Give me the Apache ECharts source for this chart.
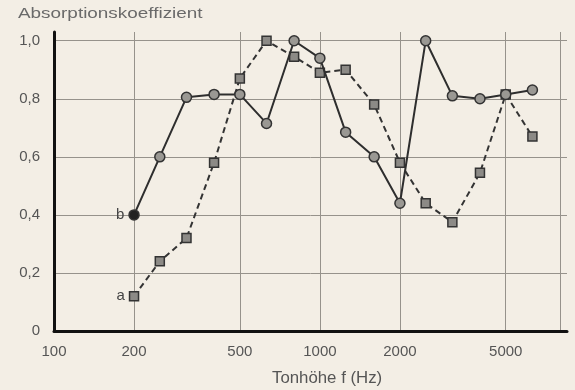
<!DOCTYPE html>
<html><head><meta charset="utf-8">
<script src="https://cdn.jsdelivr.net/npm/echarts@6/dist/echarts.min.js"></script>
<style>html,body{margin:0;padding:0;background:#f3eee5}#c{width:575px;height:390px}</style>
</head><body><div id="c"></div>
<script>
const freqs = [200, 250, 315, 400, 500, 630, 800, 1000, 1250, 1600, 2000, 2500, 3150, 4000, 5000, 6300];
const seriesB = [0.40, 0.60, 0.805, 0.815, 0.815, 0.715, 1.00, 0.94, 0.685, 0.60, 0.44, 1.00, 0.81, 0.80, 0.815, 0.83];
const seriesA = [0.12, 0.24, 0.32, 0.58, 0.87, 1.00, 0.945, 0.89, 0.90, 0.78, 0.58, 0.44, 0.375, 0.545, 0.815, 0.67];
const xTickLabels = [100, 200, 500, 1000, 2000, 5000];
const xGridValues = [200, 500, 1000, 2000, 5000, 8000];
const yTickValues = [0, 0.2, 0.4, 0.6, 0.8, 1.0];
const yTitle = 'Absorptionskoeffizient';
const xTitle = 'Tonhöhe f (Hz)';

const chart = echarts.init(document.getElementById('c'));
const pairs = (vals) => freqs.map((f, i) => [f, vals[i]]);
const dataB = pairs(seriesB);
const dataA = pairs(seriesA);
const endLabel = (t) => ({show: true, formatter: t, position: 'left', distance: 4, fontSize: 15, color: '#444', fontFamily: 'Liberation Sans'});
dataB[0] = {value: dataB[0], label: endLabel('b'), itemStyle: {color: '#222'}};
dataA[0] = {value: dataA[0], label: endLabel('a')};

chart.setOption({
  backgroundColor: '#f3eee5',
  animation: false,
  grid: {left: 54, right: 8, top: 32, bottom: 59},
  xAxis: {
    type: 'log', min: 100, max: 8500,
    axisLine: {show: true, lineStyle: {color: '#111', width: 3}},
    axisTick: {show: false, customValues: xGridValues},
    axisLabel: {customValues: xTickLabels, color: '#555', fontSize: 15, margin: 13, fontFamily: 'Liberation Sans',
      formatter: v => String(Math.round(v))},
    splitLine: {show: true, lineStyle: {color: '#96928b', width: 1}}
  },
  yAxis: {
    type: 'value', min: 0, max: 1.03,
    axisLine: {show: true, lineStyle: {color: '#111', width: 3}},
    axisTick: {show: false, customValues: yTickValues},
    axisLabel: {customValues: yTickValues, color: '#555', fontSize: 15, margin: 14, fontFamily: 'Liberation Sans',
      formatter: v => v === 0 ? '0' : v.toFixed(1).replace('.', ',')},
    splitLine: {show: true, lineStyle: {color: '#96928b', width: 1}}
  },
  graphic: [
    {type: 'text', x: 18, y: 6, scaleX: 1.26, style: {text: yTitle, fill: '#6a6a6a', fontSize: 15, fontFamily: 'Liberation Sans'}},
    {type: 'text', x: 272, y: 371, scaleX: 1.05, style: {text: xTitle, fill: '#555', fontSize: 16, fontFamily: 'Liberation Sans'}}
  ],
  series: [
    {
      type: 'line', data: dataA, symbol: 'rect', symbolSize: 9,
      lineStyle: {color: '#333', width: 2, type: [6, 4]},
      itemStyle: {color: '#8c8a86', borderColor: '#333', borderWidth: 1.5},
      z: 2
    },
    {
      type: 'line', data: dataB, symbol: 'circle', symbolSize: 10,
      lineStyle: {color: '#2e2e2e', width: 2},
      itemStyle: {color: '#9a9893', borderColor: '#333', borderWidth: 1.5},
      z: 3
    }
  ]
});
</script></body></html>
